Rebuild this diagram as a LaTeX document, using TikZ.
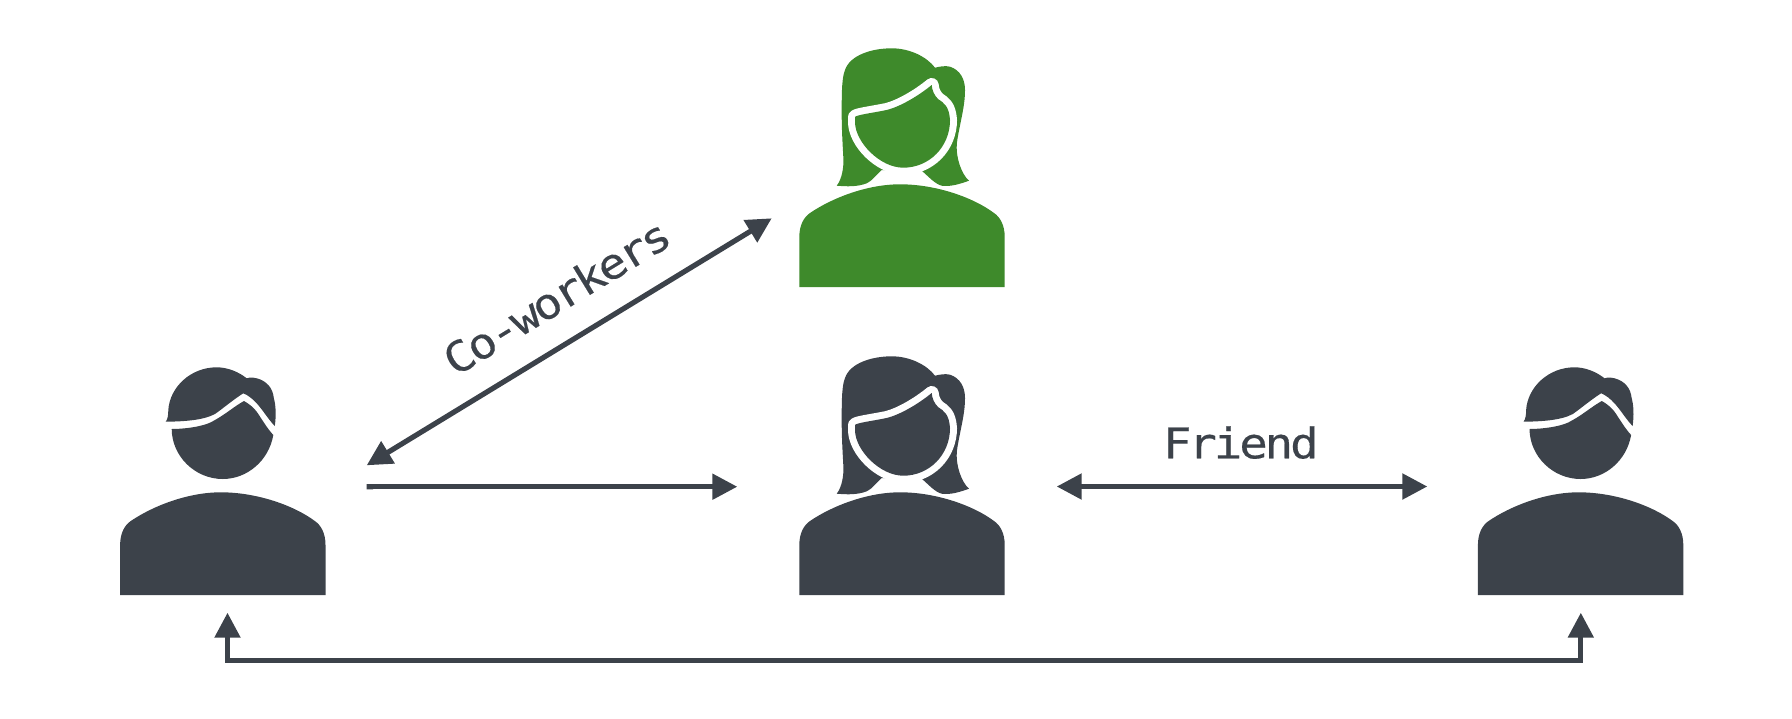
\documentclass[tikz,border=0pt]{standalone}
\usepackage{fontspec}
\setmonofont[FakeBold=0.35, FakeStretch=1.12, LetterSpace=-7.2]{DejaVu Sans Mono}
\usetikzlibrary{arrows.meta}
\definecolor{slate}{HTML}{3C424A}
\definecolor{leaf}{HTML}{3E8A2B}
\tikzset{
  link/.style={draw=slate, line width=0.052cm, {Triangle[length=0.25cm,width=0.25cm]}-{Triangle[length=0.25cm,width=0.25cm]}},
  onelink/.style={link, {Butt Cap}-{Triangle[length=0.25cm,width=0.25cm]}},
  tag/.style={text=slate, inner sep=0pt, font=\ttfamily\fontsize{12}{14}\selectfont},
  pics/torso/.style={code={
    \fill[#1] (-102.7,0) -- (-102.7,-50) .. controls (-102.7,-62) and (-98,-70) .. (-92,-74)
      .. controls (-70,-89) and (-35,-102.7) .. (-2,-102.7)
      .. controls (35,-102.7) and (72,-89) .. (92,-74)
      .. controls (98,-70) and (102.7,-62) .. (102.7,-50) -- (102.7,0) -- cycle;
  }},
  pics/woman/.style={code={
    \pic {torso=#1};
    % hair
    \fill[#1] (-65.3,-101.3) .. controls (-60,-108) and (-58,-120) .. (-58.7,-130)
      .. controls (-59.5,-145) and (-60.5,-160) .. (-60.3,-180)
      .. controls (-60.3,-195) and (-60,-210) .. (-57,-217)
      .. controls (-52,-232) and (-30,-238.7) .. (-10.3,-238.7)
      .. controls (8,-238.7) and (25,-230) .. (33,-219.3)
      .. controls (38,-220.5) and (43,-221.5) .. (48,-220.3)
      .. controls (58,-217) and (63,-208) .. (63,-197)
      .. controls (63,-180) and (58,-165) .. (55,-145)
      .. controls (53,-130) and (60,-112) .. (67,-106.3)
      .. controls (58,-103) and (48,-100) .. (39.7,-101.3)
      .. controls (33,-103) and (27,-110) .. (19.7,-116.3)
      -- (-20.3,-117)
      .. controls (-26,-112) and (-30,-106) .. (-35.3,-103.7)
      .. controls (-45,-100) and (-55,-100.5) .. (-65.3,-101.3) -- cycle;
    % face
    \path[fill=#1, preaction={draw=white, line width=0.14cm, line join=round}]
      (-47,-170) .. controls (-46,-172) and (-30,-174) .. (-15.3,-177)
      .. controls (-3,-180) and (15,-190) .. (29.7,-202)
      .. controls (30,-197) and (32,-192) .. (36,-188)
      .. controls (42,-184) and (47,-181) .. (48,-167)
      .. controls (48,-140) and (27,-119.3) .. (1.3,-119.3)
      .. controls (-22,-119.3) and (-47,-145) .. (-47,-165) -- cycle;
  }},
  pics/man/.style={code={
    \pic {torso=#1};
    % hair
    \fill[#1] (-57.1,-173.3) .. controls (-55,-176) and (-54.5,-180) .. (-54.5,-185)
      .. controls (-53,-208) and (-32,-227.7) .. (-6.1,-227.7)
      .. controls (5,-227.7) and (16,-223) .. (23.9,-216.7)
      .. controls (28,-218) and (31,-217.5) .. (34,-216.7)
      .. controls (44,-214) and (50,-207) .. (51,-197)
      .. controls (53,-190) and (53.5,-180) .. (52,-169)
      .. controls (46,-175) and (40,-185) .. (33.9,-191.7)
      .. controls (30,-196) and (25,-200) .. (20.5,-201.7)
      .. controls (10,-195) and (2,-188) .. (-7.8,-181)
      .. controls (-20,-174.5) and (-40,-173.5) .. (-57.1,-173.3) -- cycle;
    % face
    \fill[#1] (-51.1,-166) .. controls (-40,-166) and (-18,-168) .. (-7.8,-175)
      .. controls (3,-181) and (12,-189) .. (21.2,-194)
      .. controls (28,-190) and (31,-187) .. (33.9,-183.3)
      .. controls (39,-176) and (44,-167) .. (50.5,-160)
      .. controls (46,-134) and (24,-116) .. (0,-116)
      .. controls (-28,-116) and (-51,-139) .. (-51.1,-166) -- cycle;
  }},
}
\begin{document}
\begin{tikzpicture}[x=0.01cm, y=-0.01cm]
    \useasboundingbox (0,0) rectangle (1792,718);

    % people
    \pic at (902,287) {woman=leaf};
    \pic at (902,595) {woman=slate};
    \pic at (222.8,595) {man=slate};
    \pic at (1580.6,595) {man=slate};

    % arrow ends
    \coordinate (coworkA) at (366.7,465.3);
    \coordinate (coworkB) at (771.7,218.3);
    \coordinate (followA) at (366.7,486.7);
    \coordinate (followB) at (737.3,486.7);
    \coordinate (friendA) at (1056.7,486.5);
    \coordinate (friendB) at (1427.3,486.5);
    \coordinate (loopA) at (227.5,612.7);
    \coordinate (loopB) at (1580.8,612.7);
    \coordinate (bendA) at (227.5,660.3);
    \coordinate (bendB) at (1580.8,660.3);

    \draw[link] (coworkA) -- (coworkB);
    \draw[onelink] (followA) -- (followB);
    \draw[link] (friendA) -- (friendB);
    \draw[link] (loopA) -- (bendA) -- (bendB) -- (loopB);

    \node[tag, rotate=31.4] (coworkers) at (556.7,296.7) {Co-workers};
    \node[tag, anchor=base] (friend) at (1240.8,458.3) {Friend};
\end{tikzpicture}
\end{document}
